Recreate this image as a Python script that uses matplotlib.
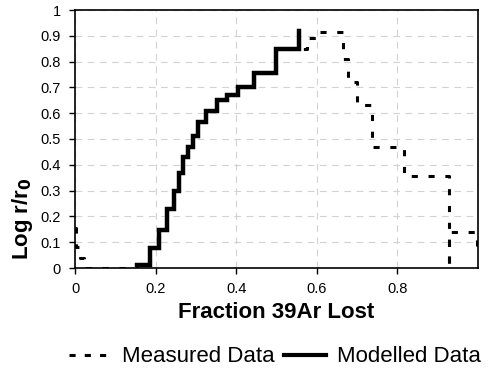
import matplotlib
matplotlib.use("Agg")
import matplotlib.pyplot as plt
from matplotlib.lines import Line2D

plt.rcParams['font.family'] = ['Liberation Sans', 'DejaVu Sans']

# Modelled data: step edges (fraction lost) and values (log r/r0)
model_x = [0.154, 0.187, 0.209, 0.229, 0.246, 0.259, 0.269, 0.281, 0.294, 0.306,
           0.326, 0.353, 0.378, 0.405, 0.443, 0.498, 0.555]
model_y = [0.01, 0.077, 0.147, 0.23, 0.30, 0.37, 0.43, 0.47, 0.51, 0.566,
           0.61, 0.65, 0.67, 0.70, 0.755, 0.85, 0.92]

# Measured data: step edges and values
meas_x = [0.0, 0.003, 0.012, 0.022,
          0.154, 0.187, 0.209, 0.229, 0.246, 0.259, 0.269, 0.281, 0.294, 0.306,
          0.326, 0.353, 0.378, 0.405, 0.443, 0.498,
          0.575, 0.602, 0.665, 0.677, 0.699, 0.736, 0.816, 0.927, 0.927, 0.998, 0.998]
meas_y = [0.155, 0.08, 0.04, 0.0,
          0.01, 0.077, 0.147, 0.23, 0.30, 0.37, 0.43, 0.47, 0.51, 0.566,
          0.61, 0.65, 0.67, 0.70, 0.755, 0.85,
          0.89, 0.915, 0.81, 0.72, 0.63, 0.47, 0.355, 0.0, 0.14, 0.07, 0.07]

xticks = [0, 0.2, 0.4, 0.6, 0.8]
xtick_labels = ["0", "0.2", "0.4", "0.6", "0.8"]
yticks = [0, 0.1, 0.2, 0.3, 0.4, 0.5, 0.6, 0.7, 0.8, 0.9, 1.0]
ytick_labels = ["0", "0.1", "0.2", "0.3", "0.4", "0.5", "0.6", "0.7", "0.8", "0.9", "1"]

W, H = 488, 374
fig = plt.figure(figsize=(W / 100, H / 100), dpi=100)
ax = fig.add_axes([75 / W, (H - 268) / H, (478 - 75) / W, (268 - 10) / H])

dash = (0, (2.0, 3.5))
ax.step(meas_x, meas_y, where='post', color='black', lw=2.2, linestyle=dash,
        solid_capstyle='butt', dash_capstyle='butt', clip_on=True)
ax.step(model_x, model_y, where='post', color='black', lw=3.2,
        solid_joinstyle='miter')

ax.set_xlim(0, 1.0)
ax.set_ylim(0, 1.0)
ax.set_xticks(xticks)
ax.set_xticklabels(xtick_labels)
ax.set_yticks(yticks)
ax.set_yticklabels(ytick_labels)
ax.tick_params(direction='out', length=4, width=1, labelsize=10.5, pad=6)
ax.grid(True, color='#d2d2d2', lw=0.8, linestyle=(0, (6, 5)))
for s in ax.spines.values():
    s.set_linewidth(1.2)
    s.set_color('black')

ax.set_xlabel("Fraction 39Ar Lost", fontsize=16, fontweight='bold', labelpad=0)
ax.xaxis.set_label_coords(0.5, -0.13)
ax.set_ylabel("Log r/r$_\\mathbf{0}$", fontsize=16, fontweight='bold')
ax.yaxis.set_label_coords(-0.10, 0.19)

handles = [Line2D([], [], color='black', lw=2.2, linestyle=(0, (2.0, 3.0))),
           Line2D([], [], color='black', lw=3.0)]
fig.legend(handles, ["Measured Data", "Modelled Data"], loc='center',
           bbox_to_anchor=(275 / W, 1 - 357 / H), ncol=2, frameon=False,
           fontsize=16, handlelength=1.9, handletextpad=0.5, columnspacing=0.4)

fig.savefig("out.png", dpi=100)
